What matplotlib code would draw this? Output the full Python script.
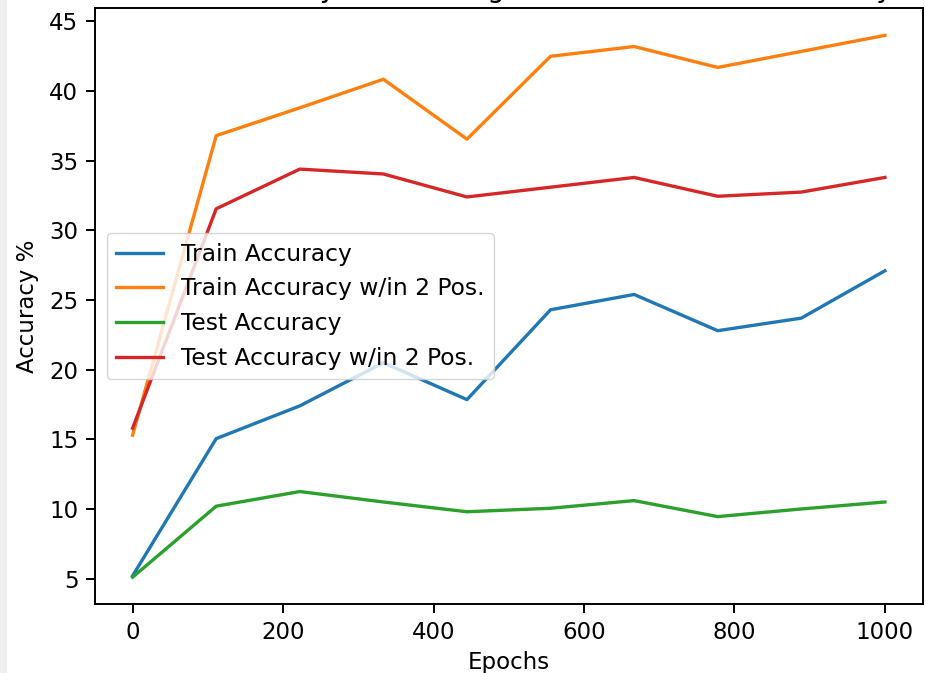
import numpy as np
import matplotlib.pyplot as plt
from matplotlib.patches import Rectangle

# values
epochs = np.linspace(0, 1000, 10)
train_acc = [5.2, 15.05, 17.4, 20.5, 17.85, 24.3, 25.4, 22.8, 23.7, 27.1]
train_acc_2pos = [15.3, 36.8, 38.8, 40.85, 36.55, 42.5, 43.2, 41.7, 42.85, 44.0]
test_acc = [5.1, 10.2, 11.25, 10.5, 9.8, 10.05, 10.6, 9.45, 10.0, 10.5]
test_acc_2pos = [15.8, 31.55, 34.4, 34.05, 32.4, 33.1, 33.8, 32.45, 32.75, 33.8]

labels = ['Train Accuracy', 'Train Accuracy w/in 2 Pos.',
          'Test Accuracy', 'Test Accuracy w/in 2 Pos.']
title = 'Exact Accuracy vs. Ranking Within 2 Positions Accuracy'

fs = 16.5
plt.rcParams['font.family'] = ['DejaVu Sans']
plt.rcParams['font.size'] = fs
plt.rcParams['axes.linewidth'] = 1.4
for ax_name in ('xtick', 'ytick'):
    plt.rcParams[ax_name + '.major.size'] = 6.5
    plt.rcParams[ax_name + '.major.width'] = 1.4
    plt.rcParams[ax_name + '.major.pad'] = 5.5
    plt.rcParams[ax_name + '.labelsize'] = fs

fig = plt.figure(figsize=(9.26, 6.73), dpi=100)
ax = fig.add_axes([95 / 926, 1 - 604.3 / 673, 827.5 / 926, 596 / 673])

# grey strip of the screenshot on the left
fig.patches.append(Rectangle((0, 0), 7 / 926, 1, transform=fig.transFigure,
                             facecolor='#efefef', edgecolor='none', zorder=-1))

for series, label in zip([train_acc, train_acc_2pos, test_acc, test_acc_2pos], labels):
    ax.plot(epochs, series, label=label, linewidth=2.4)

ax.set_xlabel('Epochs', fontsize=fs, labelpad=5)
ax.set_ylabel('Accuracy %', fontsize=fs, labelpad=7)
ax.set_yticks([5, 10, 15, 20, 25, 30, 35, 40, 45])
ax.legend(loc='center left', fontsize=16.8)

# title is cut off at the top of the screenshot
fig.text((95 + 922.5) / 2 / 926, 1 + 3 / 673, title, ha='center', va='baseline',
         fontsize=fs * 1.2)

fig.savefig('out.png', dpi=100)
